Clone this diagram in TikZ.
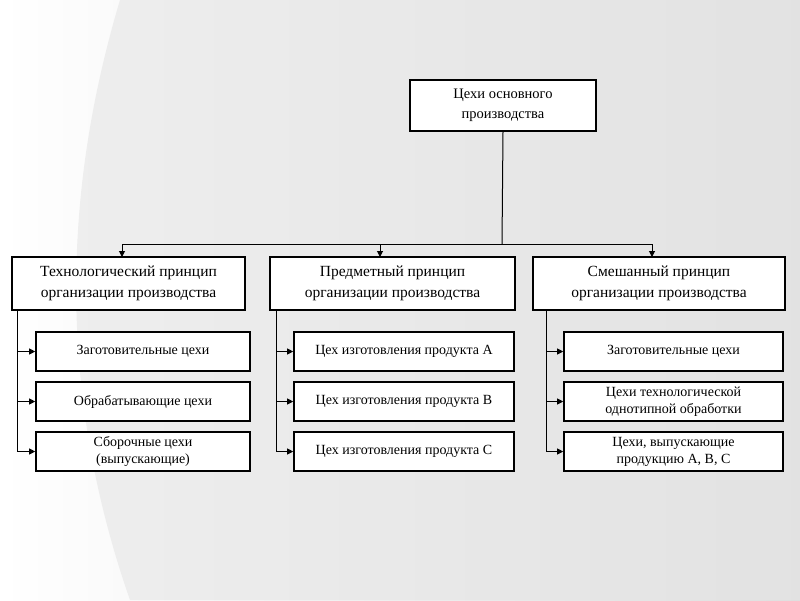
\documentclass[tikz,border=0pt]{standalone}
\usepackage{fontspec}
\setmainfont{Liberation Serif}
\usetikzlibrary{arrows.meta}
\tikzset{every picture/.style={line width=1pt}}
\tikzset{
  boxnode/.style={draw=black, line width=1.6pt, fill=white, minimum height=39pt, align=center, font=\fontsize{14}{17}\selectfont, inner sep=1pt},
  headnode/.style={draw=black, line width=1.6pt, fill=white, minimum height=53pt, align=center, font=\fontsize{15.5}{21}\selectfont, inner sep=1pt},
  arrowline/.style={-{Triangle[length=6pt,width=6pt]}}
}
\begin{document}
\begin{tikzpicture}[x=1pt,y=-1pt]
\useasboundingbox (0,0) rectangle (800,600);
% background
\shade[left color=white, right color=gray!25] (0,0) rectangle (800,600);
\fill[gray!20, opacity=0.6] (120,0) .. controls (60,200) and (60,400) .. (130,600) -- (800,600) -- (800,0) -- cycle;

% Top node
\node[boxnode, minimum width=186pt, minimum height=51pt, font=\fontsize{14.5}{20}\selectfont] (top) at (503,105.5) {Цехи основного\\производства};

% Header nodes
\node[headnode, minimum width=233pt] (tech) at (128.5,283.5) {Технологический принцип\\организации производства};
\node[headnode, minimum width=245pt] (subj) at (392.5,283.5) {Предметный принцип\\организации производства};
\node[headnode, minimum width=252pt] (mix) at (659,283.5) {Смешанный принцип\\организации производства};

% Child nodes
\node[boxnode, minimum width=214pt] (t1) at (143,351.5) {Заготовительные цехи};
\node[boxnode, minimum width=214pt] (t2) at (143,401.5) {Обрабатывающие цехи};
\node[boxnode, minimum width=214pt] (t3) at (143,451.5) {Сборочные цехи\\(выпускающие)};
\node[boxnode, minimum width=220pt] (s1) at (404,351.5) {Цех изготовления продукта А};
\node[boxnode, minimum width=220pt] (s2) at (404,401.5) {Цех изготовления продукта В};
\node[boxnode, minimum width=220pt] (s3) at (404,451.5) {Цех изготовления продукта С};
\node[boxnode, minimum width=219pt] (m1) at (673.5,351.5) {Заготовительные цехи};
\node[boxnode, minimum width=219pt] (m2) at (673.5,401.5) {Цехи технологической\\однотипной обработки};
\node[boxnode, minimum width=219pt] (m3) at (673.5,451.5) {Цехи, выпускающие\\продукцию А, В, С};

% Connectors
\coordinate (split) at (502,244);
\draw (top.south) -- (split);
\draw (122,244) -- (652,244);
\draw[arrowline] (122,244) -- (122,257);
\draw[arrowline] (380,244) -- (380,257);
\draw[arrowline] (652,244) -- (652,257);

\draw (17,310) -- (17,451.5);
\foreach \n in {t1,t2,t3} \draw[arrowline] (17,0 |- \n.west) -- (\n.west);
\draw (276,310) -- (276,451.5);
\foreach \n in {s1,s2,s3} \draw[arrowline] (276,0 |- \n.west) -- (\n.west);
\draw (546,310) -- (546,451.5);
\foreach \n in {m1,m2,m3} \draw[arrowline] (546,0 |- \n.west) -- (\n.west);
\end{tikzpicture}
\end{document}
